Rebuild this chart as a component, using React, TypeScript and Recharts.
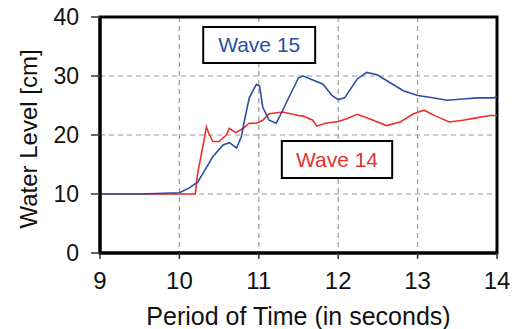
import React from "react";
import {
  LineChart,
  Line,
  XAxis,
  YAxis,
  CartesianGrid,
  ReferenceArea,
  Label,
} from "recharts";

// Wave 15 (blue) readings: time in seconds, level in cm
const wave15Time = [
  9, 9.5, 10, 10.12, 10.23, 10.31, 10.42, 10.55, 10.63, 10.72, 10.78, 10.82,
  10.88, 10.97, 11.01, 11.05, 11.13, 11.22, 11.28, 11.38, 11.5, 11.56, 11.65,
  11.81, 11.92, 12.0, 12.08, 12.24, 12.36, 12.49, 12.65, 12.82, 13.0, 13.19,
  13.37, 13.57, 13.75, 13.96, 14,
];
const wave15Level = [
  10, 10, 10.2, 11, 12, 13.8, 16.3, 18.3, 18.7, 17.8, 19.7, 22.5, 26.3, 28.6,
  28.3, 24.7, 22.5, 22, 23.6, 26.4, 29.7, 30, 29.5, 28.6, 26.7, 26, 26.3, 29.5,
  30.6, 30.2, 28.9, 27.5, 26.7, 26.3, 25.9, 26.1, 26.3, 26.3, 26.5,
];

// Wave 14 (red) readings
const wave14Time = [
  9, 9.5, 10, 10.2, 10.23, 10.27, 10.31, 10.34, 10.37, 10.42, 10.5, 10.59,
  10.63, 10.71, 10.8, 10.88, 10.97, 11.05, 11.13, 11.3, 11.5, 11.56, 11.68,
  11.73, 11.84, 12.0, 12.1, 12.24, 12.4, 12.61, 12.78, 12.95, 13.08, 13.23,
  13.4, 13.57, 13.74, 13.91, 14,
];
const wave14Level = [
  10, 10, 10, 10, 13.5, 16.3, 19.1, 21.4, 20.3, 18.9, 18.9, 20, 21.1, 20.4,
  21.1, 22, 22, 22.5, 23.6, 23.9, 23.3, 23.2, 22.5, 21.5, 22, 22.3, 22.7, 23.5,
  22.7, 21.6, 22.2, 23.6, 24.2, 23.2, 22.2, 22.5, 22.9, 23.3, 23.3,
];

const xTicks = [9, 10, 11, 12, 13, 14];
const yTicks = [0, 10, 20, 30, 40];

const wave15Data = wave15Time.map((t, i) => ({ t, level: wave15Level[i] }));
const wave14Data = wave14Time.map((t, i) => ({ t, level: wave14Level[i] }));

const FONT = "'Liberation Sans', Arial, sans-serif";
const BLUE = "#2a4ea6";
const RED = "#e8302c";

const App: React.FC = () => {
  return (
    <div
      style={{
        position: "absolute",
        left: 0,
        top: 0,
        width: 518,
        height: 329,
        fontFamily: FONT,
      }}
    >
      <LineChart
        width={518}
        height={329}
        margin={{ top: 17, right: 21, bottom: 0, left: 0 }}
      >
        <CartesianGrid
          stroke="#9a9a9a"
          strokeDasharray="5 4"
          strokeWidth={1.2}
        />
        <XAxis
          type="number"
          dataKey="t"
          domain={[9, 14]}
          ticks={xTicks}
          allowDataOverflow
          height={76}
          tickSize={6}
          tickMargin={13}
          axisLine={{ stroke: "#000", strokeWidth: 3 }}
          tickLine={{ stroke: "#333", strokeWidth: 1.5 }}
          tick={{ fontSize: 24, fill: "#111", fontFamily: FONT }}
        >
          <Label
            value="Period of Time (in seconds)"
            position="insideBottom"
            offset={4}
            style={{ fontSize: 25, fill: "#111", fontFamily: FONT }}
          />
        </XAxis>
        <YAxis
          type="number"
          domain={[0, 40]}
          ticks={yTicks}
          width={100}
          tickSize={9}
          tickMargin={12}
          axisLine={{ stroke: "#000", strokeWidth: 3 }}
          tickLine={{ stroke: "#333", strokeWidth: 1.5 }}
          tick={{ fontSize: 23, fill: "#111", fontFamily: FONT }}
        >
          <Label
            value="Water Level [cm]"
            angle={-90}
            position="insideLeft"
            offset={28}
            dy={4}
            style={{
              fontSize: 24,
              fill: "#111",
              fontFamily: FONT,
              textAnchor: "middle",
            }}
          />
        </YAxis>
        <Line
          data={wave14Data}
          dataKey="level"
          stroke={RED}
          strokeWidth={1.6}
          dot={false}
          type="linear"
          isAnimationActive={false}
        />
        <Line
          data={wave15Data}
          dataKey="level"
          stroke={BLUE}
          strokeWidth={1.6}
          dot={false}
          type="linear"
          isAnimationActive={false}
        />
        <ReferenceArea
          x1={9}
          x2={14}
          y1={0}
          y2={40}
          fill="none"
          stroke="#000"
          strokeWidth={3}
          ifOverflow="visible"
        />
        <ReferenceArea
          x1={10.3}
          x2={11.71}
          y1={32.2}
          y2={38.3}
          fill="#fff"
          fillOpacity={1}
          stroke="#000"
          strokeWidth={2}
          ifOverflow="visible"
        >
          <Label
            value="Wave 15"
            position="center"
            style={{ fontSize: 21, fill: BLUE, fontFamily: FONT }}
          />
        </ReferenceArea>
        <ReferenceArea
          x1={11.29}
          x2={12.68}
          y1={12.7}
          y2={19.0}
          fill="#fff"
          fillOpacity={1}
          stroke="#000"
          strokeWidth={2}
          ifOverflow="visible"
        >
          <Label
            value="Wave 14"
            position="center"
            style={{ fontSize: 21, fill: RED, fontFamily: FONT }}
          />
        </ReferenceArea>
      </LineChart>
    </div>
  );
};

export default App;
